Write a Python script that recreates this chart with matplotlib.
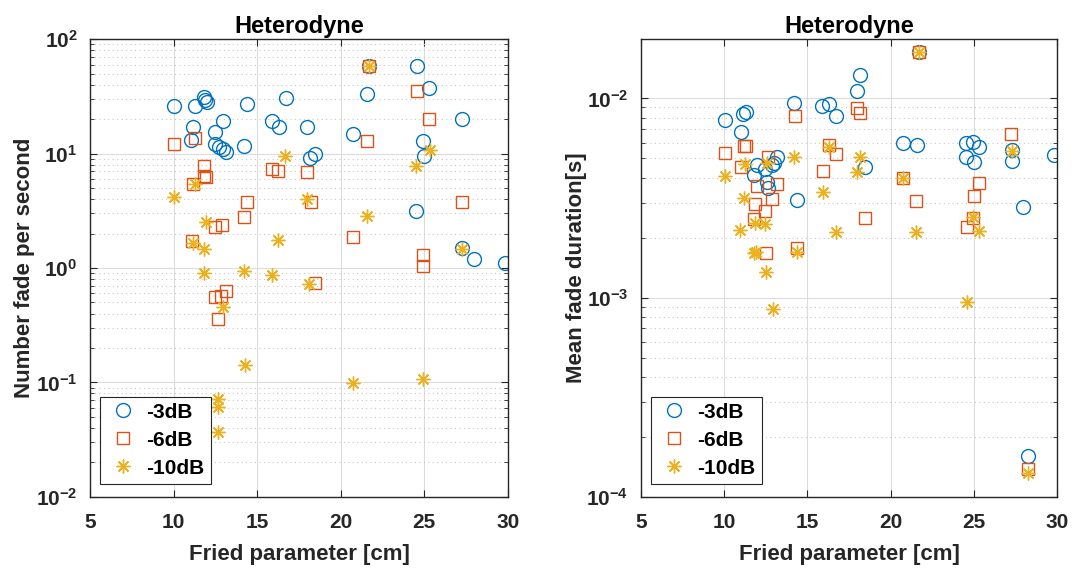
import numpy as np
import matplotlib.pyplot as plt
from matplotlib.ticker import FixedLocator, FixedFormatter, NullLocator

plt.rcParams['font.family'] = ['Liberation Sans', 'DejaVu Sans']
plt.rcParams['font.weight'] = 'bold'
plt.rcParams['mathtext.fontset'] = 'custom'
plt.rcParams['mathtext.bf'] = 'Liberation Sans:bold'
plt.rcParams['mathtext.rm'] = 'Liberation Sans:bold'

# Left panel: number of fades per second
n3_x = [10.04, 11.28, 11.8, 11.9, 12.0, 14.37, 16.7, 12.94, 11.18, 12.48, 11.02, 12.48, 12.72,
        12.94, 13.13, 14.23, 15.9, 16.3, 18.0, 18.16, 18.46, 21.7, 24.54, 21.55, 25.29, 20.75,
        27.27, 24.9, 24.98, 24.48, 27.23, 27.97, 29.82]
n3_y = [25.9, 26.2, 31.0, 29.4, 28.4, 27.0, 30.8, 19.4, 17.0, 15.5, 13.1, 12.1, 11.5,
        11.0, 10.4, 11.7, 19.4, 17.2, 17.2, 9.1, 9.9, 58.4, 58.8, 33.0, 37.2, 14.8,
        20.1, 12.9, 9.5, 3.15, 1.5, 1.21, 1.10]
n6_x = [10.04, 11.28, 11.84, 11.84, 11.94, 11.18, 15.9, 16.26, 18.0, 14.37, 14.23, 12.48, 12.91,
        11.08, 18.2, 21.7, 24.54, 25.29, 21.55, 27.23, 20.75, 24.93, 24.9, 12.48, 12.83, 13.13,
        12.67, 18.46]
n6_y = [12.1, 13.6, 7.8, 6.4, 6.3, 5.4, 7.3, 7.1, 6.9, 3.8, 2.8, 2.3, 2.4,
        1.73, 3.8, 58.0, 35.5, 20.0, 13.0, 3.75, 1.85, 1.30, 1.04, 0.56, 0.57, 0.63,
        0.36, 0.74]
n10_x = [16.66, 10.04, 11.28, 18.0, 11.94, 16.26, 11.14, 11.84, 11.84, 14.2, 15.9, 18.12, 12.94,
         14.27, 12.67, 12.64, 12.64, 20.75, 24.93, 21.7, 25.34, 24.5, 21.55, 27.23]
n10_y = [9.5, 4.15, 5.4, 4.0, 2.5, 1.75, 1.64, 1.48, 0.91, 0.95, 0.86, 0.72, 0.46,
         0.141, 0.072, 0.061, 0.0365, 0.099, 0.107, 58.0, 10.7, 7.8, 2.86, 1.46]

# Right panel: mean fade duration [s]
d3_x = [18.16, 18.0, 14.22, 15.86, 16.3, 16.7, 10.06, 11.16, 11.3, 11.02, 18.46, 13.16, 11.96,
        11.8, 12.46, 12.86, 13.0, 12.56, 12.66, 14.36, 21.72, 20.72, 21.56, 24.52, 24.92, 25.32,
        24.52, 25.0, 27.26, 27.26, 29.82, 27.96, 28.26]
d3_y = [0.0131, 0.0109, 0.00944, 0.00918, 0.00936, 0.00815, 0.00778, 0.00834, 0.00857, 0.00675,
        0.00454, 0.00506, 0.00462, 0.00412, 0.0044, 0.00462, 0.00472, 0.00382, 0.00354, 0.00309,
        0.0170, 0.00594, 0.00583, 0.00594, 0.00601, 0.00567, 0.00506, 0.00481, 0.00551, 0.00486,
        0.0052, 0.00286, 0.000161]
d6_x = [18.0, 18.16, 14.26, 11.22, 11.3, 10.06, 16.3, 16.72, 12.66, 11.0, 15.92, 11.96, 13.16,
        12.9, 11.86, 12.46, 11.8, 12.52, 14.36, 18.46, 21.72, 27.22, 20.72, 25.3, 25.0, 21.52,
        24.96, 24.6, 28.26]
d6_y = [0.00891, 0.00841, 0.00818, 0.00578, 0.00575, 0.0053, 0.00583, 0.00524, 0.0051, 0.00451,
        0.00434, 0.00363, 0.0037, 0.00313, 0.00294, 0.00273, 0.00247, 0.00168, 0.00177, 0.0025,
        0.0170, 0.00659, 0.00397, 0.00375, 0.00324, 0.00306, 0.0025, 0.00227, 0.000138]
d10_x = [14.22, 16.3, 18.16, 17.96, 10.06, 11.26, 12.6, 15.92, 11.2, 10.96, 11.86, 12.46, 16.72,
         11.8, 11.9, 14.36, 12.52, 12.96, 21.72, 27.26, 20.72, 21.52, 24.96, 25.3, 24.56, 28.26]
d10_y = [0.00509, 0.00571, 0.00506, 0.00428, 0.00407, 0.00467, 0.00475, 0.00337, 0.00315, 0.00219,
         0.00236, 0.00234, 0.00214, 0.00168, 0.0017, 0.0017, 0.00135, 0.000875, 0.0170, 0.00546,
         0.004, 0.00213, 0.00253, 0.00217, 0.000955, 0.000131]

labels = ['-3dB', '-6dB', '-10dB']
colors = ['#0072BD', '#D95319', '#EDB120']
xticks = [5, 10, 15, 20, 25, 30]
ink = '#262626'

fig = plt.figure(figsize=(10.76, 5.69), dpi=100)
ax1 = fig.add_axes([0.0836, 0.127, 0.3885, 0.804])
ax2 = fig.add_axes([0.5955, 0.127, 0.3871, 0.804])


def style(ax, ylim, decades, ylabel):
    ax.set_yscale('log')
    ax.set_xlim(5, 30)
    ax.set_ylim(*ylim)
    ax.xaxis.set_major_locator(FixedLocator(xticks))
    ax.xaxis.set_minor_locator(NullLocator())
    ax.set_xticklabels([str(t) for t in xticks])
    ax.yaxis.set_major_locator(FixedLocator([10.0 ** d for d in decades]))
    ax.yaxis.set_major_formatter(FixedFormatter([r'$\mathbf{10^{%d}}$' % d for d in decades]))
    minors = [k * 10.0 ** d for d in decades[:-1] for k in range(2, 10)]
    ax.yaxis.set_minor_locator(FixedLocator(minors))
    ax.grid(True, which='major', color='#dcdcdc', linewidth=0.8)
    ax.grid(True, which='minor', axis='y', color='#c8c8c8', linestyle=(0, (1, 3)), linewidth=0.8)
    ax.set_axisbelow(True)
    ax.tick_params(which='both', direction='in', top=True, right=True, colors=ink,
                   labelsize=15)
    ax.tick_params(axis='x', pad=12)
    ax.tick_params(axis='y', pad=9)
    ax.tick_params(which='major', length=5)
    ax.tick_params(which='minor', length=3)
    for s in ax.spines.values():
        s.set_color(ink)
        s.set_linewidth(1.0)
    ax.set_title('Heterodyne', fontsize=17, fontweight='bold', pad=4.5)
    ax.set_xlabel('Fried parameter [cm]', fontsize=16, fontweight='bold', color=ink)
    ax.set_ylabel(ylabel, fontsize=16, fontweight='bold', color=ink)
    ax.xaxis.set_label_coords(0.5, -0.104)


def draw(ax, xs, ys, anchor):
    ax.plot(xs[0], ys[0], linestyle='none', marker='o', markersize=10, markerfacecolor='none',
            markeredgecolor=colors[0], markeredgewidth=1.0, label=labels[0])
    ax.plot(xs[1], ys[1], linestyle='none', marker='s', markersize=8, markerfacecolor='none',
            markeredgecolor=colors[1], markeredgewidth=1.0, label=labels[1])
    ax.plot(xs[2], ys[2], linestyle='none', marker=(8, 2, 0), markersize=10,
            markeredgecolor=colors[2], markeredgewidth=1.0, label=labels[2])
    leg = ax.legend(loc='lower left', bbox_to_anchor=anchor, borderaxespad=0, fontsize=15,
                    frameon=True, fancybox=False, edgecolor=ink, framealpha=1, borderpad=0.3,
                    handletextpad=0.33, labelspacing=0.43, handlelength=1.59)
    leg.get_frame().set_linewidth(0.8)


draw(ax1, [n3_x, n6_x, n10_x], [n3_y, n6_y, n10_y], (0.024, 0.028))
style(ax1, (1e-2, 1e2), [-2, -1, 0, 1, 2], 'Number fade per second')
ax1.yaxis.set_label_coords(-0.131, 0.5)

draw(ax2, [d3_x, d6_x, d10_x], [d3_y, d6_y, d10_y], (0.025, 0.028))
style(ax2, (1e-4, 0.0198), [-4, -3, -2], 'Mean fade duration[s]')
ax2.yaxis.set_label_coords(-0.129, 0.5)

fig.savefig('out.png', dpi=100)
